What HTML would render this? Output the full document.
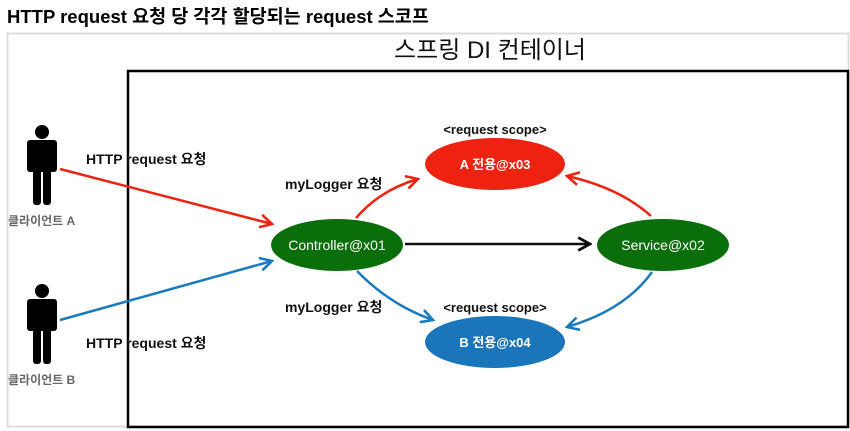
<!DOCTYPE html>
<html><head><meta charset="utf-8"><style>
html,body{margin:0;padding:0;background:#fff;width:850px;height:431px;overflow:hidden}
svg{display:block}
text{font-family:"Liberation Sans","Noto Sans CJK KR",sans-serif}
</style></head><body>
<svg width="850" height="431" viewBox="0 0 850 431" xmlns="http://www.w3.org/2000/svg">
<defs>
<marker id="ar" viewBox="0 0 14 14" refX="12" refY="7" markerWidth="15" markerHeight="15" markerUnits="userSpaceOnUse" orient="auto"><path d="M1,1 L12,7 L1,13" fill="none" stroke="#ee2211" stroke-width="2.4"/></marker>
<marker id="ab" viewBox="0 0 14 14" refX="12" refY="7" markerWidth="15" markerHeight="15" markerUnits="userSpaceOnUse" orient="auto"><path d="M1,1 L12,7 L1,13" fill="none" stroke="#1a7ac0" stroke-width="2.4"/></marker>
<marker id="ak" viewBox="0 0 14 14" refX="12" refY="7" markerWidth="15" markerHeight="15" markerUnits="userSpaceOnUse" orient="auto"><path d="M1,1 L12,7 L1,13" fill="none" stroke="#111" stroke-width="2.6"/></marker>
</defs>
<text x="7" y="23" font-size="18.5" font-weight="bold" fill="#000">HTTP request 요청 당 각각 할당되는 request 스코프</text>
<rect x="7.5" y="33.5" width="841" height="393" fill="none" stroke="#dcdcdc" stroke-width="2"/>
<rect x="128" y="71" width="720" height="356" fill="none" stroke="#000" stroke-width="2.5"/>
<text x="490" y="58" font-size="24" text-anchor="middle" fill="#111">스프링 DI 컨테이너</text>

<g fill="#000">
<circle cx="42" cy="132" r="7"/>
<rect x="27" y="140" width="30" height="32" rx="3"/>
<rect x="33" y="168" width="8" height="37" rx="3"/>
<rect x="43" y="168" width="8" height="37" rx="3"/>
<circle cx="42" cy="291" r="7"/>
<rect x="27" y="299" width="30" height="32" rx="3"/>
<rect x="33" y="327" width="8" height="37" rx="3"/>
<rect x="43" y="327" width="8" height="37" rx="3"/>
</g>
<text x="8" y="225" font-size="12" font-weight="bold" fill="#666">클라이언트 A</text>
<text x="8" y="384" font-size="12" font-weight="bold" fill="#666">클라이언트 B</text>
<text x="86" y="164" font-size="14" font-weight="bold" fill="#111">HTTP request 요청</text>
<text x="86" y="348" font-size="14" font-weight="bold" fill="#111">HTTP request 요청</text>
<text x="285" y="189" font-size="14" font-weight="bold" fill="#111">myLogger 요청</text>
<text x="285" y="312" font-size="14" font-weight="bold" fill="#111">myLogger 요청</text>
<text x="495" y="134" font-size="13" font-weight="bold" text-anchor="middle" fill="#111">&lt;request scope&gt;</text>
<text x="495" y="312" font-size="13" font-weight="bold" text-anchor="middle" fill="#111">&lt;request scope&gt;</text>

<line x1="60" y1="169" x2="272" y2="224" stroke="#ee2211" stroke-width="2.5" marker-end="url(#ar)"/>
<line x1="60" y1="320" x2="272" y2="261" stroke="#1a7ac0" stroke-width="2.5" marker-end="url(#ab)"/>
<line x1="405" y1="244" x2="590" y2="244" stroke="#111" stroke-width="2.5" marker-end="url(#ak)"/>
<path d="M356,218 Q380,190 418,179" fill="none" stroke="#ee2211" stroke-width="2.5" marker-end="url(#ar)"/>
<path d="M357,271 Q390,305 433,320" fill="none" stroke="#1a7ac0" stroke-width="2.5" marker-end="url(#ab)"/>
<path d="M651,216 Q620,188 567,176" fill="none" stroke="#ee2211" stroke-width="2.5" marker-end="url(#ar)"/>
<path d="M652,272 Q625,310 567,327" fill="none" stroke="#1a7ac0" stroke-width="2.5" marker-end="url(#ab)"/>

<ellipse cx="495" cy="164" rx="70" ry="26" fill="#ee2211"/>
<text x="495" y="169" font-size="13" font-weight="bold" text-anchor="middle" fill="#fff">A 전용@x03</text>
<ellipse cx="495" cy="342" rx="70" ry="26" fill="#1a75bb"/>
<text x="495" y="347" font-size="13" font-weight="bold" text-anchor="middle" fill="#fff">B 전용@x04</text>
<ellipse cx="337" cy="245" rx="66" ry="26" fill="#0a6e0a"/>
<text x="337" y="250" font-size="14" text-anchor="middle" fill="#fff">Controller@x01</text>
<ellipse cx="663" cy="245" rx="66" ry="26" fill="#0a6e0a"/>
<text x="663" y="250" font-size="14" text-anchor="middle" fill="#fff">Service@x02</text>
</svg>
</body></html>
